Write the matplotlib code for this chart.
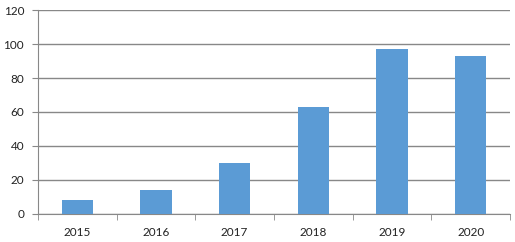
import matplotlib
matplotlib.use("Agg")
import matplotlib.pyplot as plt
import numpy as np

years = ["2015", "2016", "2017", "2018", "2019", "2020"]
values = [8, 14, 30, 63, 97, 93]
y_ticks = [0, 20, 40, 60, 80, 100, 120]

plt.rcParams['font.family'] = ['Lato', 'DejaVu Sans']

fig = plt.figure(figsize=(5.15, 2.42), dpi=100)
ax = fig.add_axes([38/515, 28/242, 472/515, 204/242])

x = np.arange(len(years))
ax.bar(x, values, width=0.4, color="#5B9BD5", zorder=3)

ax.set_xlim(-0.5, len(years) - 0.5)
ax.set_ylim(0, 120)
ax.set_yticks(y_ticks)
ax.set_yticklabels([str(v) for v in y_ticks], fontsize=8.5, color="#222222")
ax.yaxis.grid(True, color="#888888", linewidth=1.0, zorder=0)

ax.set_xticks(x)
ax.set_xticklabels(years, fontsize=8.5, color="#222222")
ax.tick_params(axis="x", length=0, pad=9)
ax.set_xticks(np.arange(-0.5, len(years)), minor=True)
ax.tick_params(axis="x", which="minor", length=4, color="#888888", direction="out")
ax.tick_params(axis="y", length=4, color="#888888", direction="out", pad=6)

for s in ["top", "right"]:
    ax.spines[s].set_visible(False)
ax.spines["left"].set_color("#888888")
ax.spines["bottom"].set_color("#888888")

fig.savefig("out.png", dpi=100)
